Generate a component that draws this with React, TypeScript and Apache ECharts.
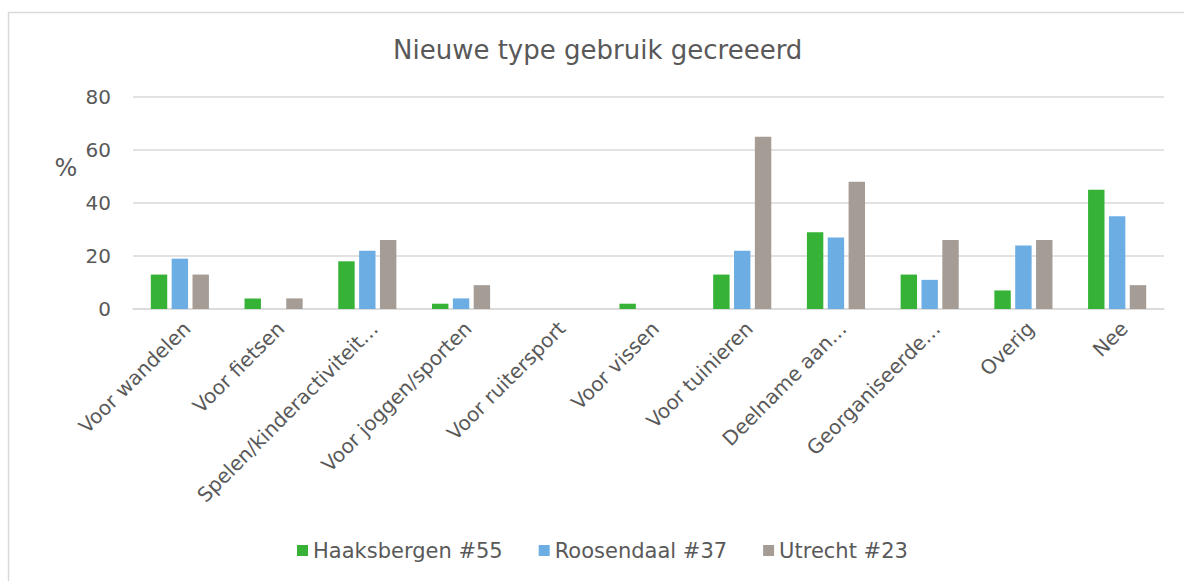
import React, { useEffect, useRef } from "react";
import * as echarts from "echarts";

const categories = [
  "Voor wandelen",
  "Voor fietsen",
  "Spelen/kinderactiviteit…",
  "Voor joggen/sporten",
  "Voor ruitersport",
  "Voor vissen",
  "Voor tuinieren",
  "Deelname aan…",
  "Georganiseerde…",
  "Overig",
  "Nee",
];

const seriesNames = ["Haaksbergen #55", "Roosendaal #37", "Utrecht #23"];
const haaksbergen = [13, 4, 18, 2, 0, 2, 13, 29, 13, 7, 45];
const roosendaal = [19, 0, 22, 4, 0, 0, 22, 27, 11, 24, 35];
const utrecht = [13, 4, 26, 9, 0, 0, 65, 48, 26, 26, 9];
const seriesColors = ["#36B336", "#6CAEE4", "#A59C96"];

const titleText = "Nieuwe type gebruik gecreeerd";
const yAxisUnit = "%";
const yMin = 0;
const yMax = 80;
const yInterval = 20;

const FONT = "'DejaVu Sans', Verdana, sans-serif";
const TEXT_COLOR = "#595959";

export default function App() {
  const ref = useRef<HTMLDivElement>(null);

  useEffect(() => {
    if (!ref.current) return;
    const chart = echarts.init(ref.current, undefined, { renderer: "svg" });
    const values = [haaksbergen, roosendaal, utrecht];
    chart.setOption({
      animation: false,
      backgroundColor: "#ffffff",
      title: {
        text: titleText,
        left: 393,
        top: 37,
        padding: 0,
        textStyle: {
          fontFamily: FONT,
          fontSize: 26,
          fontWeight: "normal",
          color: TEXT_COLOR,
        },
      },
      graphic: [
        {
          type: "rect",
          silent: true,
          shape: { x: 8.5, y: 12.5, width: 1300, height: 700 },
          style: { fill: "none", stroke: "#d9d9d9", lineWidth: 1.5 },
        },
        {
          type: "text",
          silent: true,
          x: 66,
          y: 168,
          style: {
            text: yAxisUnit,
            fontFamily: FONT,
            fontSize: 24,
            fill: TEXT_COLOR,
            textAlign: "center",
            textVerticalAlign: "middle",
          },
        },
      ],
      legend: {
        data: seriesNames,
        left: 297,
        top: 540,
        padding: 0,
        itemWidth: 11,
        itemHeight: 11,
        itemGap: 36,
        icon: "rect",
        textStyle: {
          fontFamily: FONT,
          fontSize: 21,
          color: TEXT_COLOR,
        },
      },
      grid: {
        left: 133,
        right: 20,
        top: 97,
        bottom: 272,
        containLabel: false,
      },
      xAxis: {
        type: "category",
        data: categories,
        axisLine: { show: true, lineStyle: { color: "#d9d9d9", width: 1.5 } },
        axisTick: { show: false },
        axisLabel: {
          interval: 0,
          rotate: 45,
          margin: 9,
          verticalAlign: "top",
          fontFamily: FONT,
          fontSize: 20,
          color: TEXT_COLOR,
        },
      },
      yAxis: {
        type: "value",
        min: yMin,
        max: yMax,
        interval: yInterval,
        axisLine: { show: false },
        axisTick: { show: false },
        splitLine: { lineStyle: { color: "#d9d9d9", width: 1.5 } },
        axisLabel: {
          margin: 22,
          fontFamily: FONT,
          fontSize: 20,
          color: TEXT_COLOR,
        },
      },
      series: seriesNames.map((name, i) => ({
        name,
        type: "bar",
        data: values[i],
        barGap: "27%",
        barCategoryGap: "38%",
        itemStyle: { color: seriesColors[i] },
      })),
    });
    return () => chart.dispose();
  }, []);

  return (
    <div
      ref={ref}
      style={{ position: "absolute", left: 0, top: 0, width: 1184, height: 581 }}
    />
  );
}
